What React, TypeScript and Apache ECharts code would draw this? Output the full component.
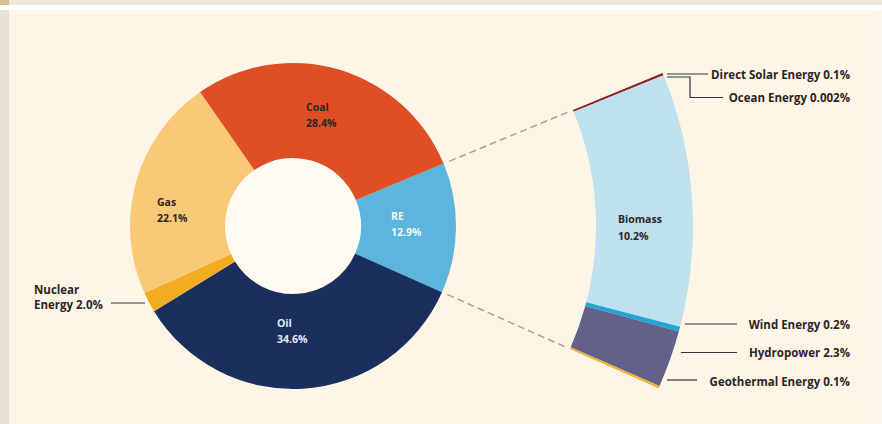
import React, { useEffect, useRef } from 'react';
import * as echarts from 'echarts';

// ---- data ----
const mainNames = ['RE', 'Oil', 'Nuclear Energy', 'Gas', 'Coal'];
const mainValues = [12.9, 34.6, 2.0, 22.1, 28.4];
const mainColors = ['#5BB5DC', '#1B2F5E', '#F2AC22', '#F9C978', '#DF4F26'];
const mainTextColors = ['#EEF7FB', '#E6E9F0', '#2B2523', '#2B2523', '#2B2523'];

const reNames = ['Direct Solar Energy', 'Ocean Energy', 'Biomass', 'Wind Energy', 'Hydropower', 'Geothermal Energy'];
const reValues = [0.1, 0.002, 10.2, 0.2, 2.3, 0.1];
const reColors = ['#8E2121', '#B8453A', '#BFE0EE', '#1FA6D5', '#62618A', '#F0B233'];

// ---- layout ----
const CENTER: [number, number] = [293, 226];
const START = 22.5;
const FONT = "'Open Sans', 'Noto Sans', sans-serif";
const IN_SIZE = 10.5;
const OUT_SIZE = 11.5;

type LP = { x: number; y: number; align: 'left' | 'right'; line?: number[][]; size: number };
const mainLabelPos: Record<string, LP> = {
  RE: { x: 391, y: 224, align: 'left', size: IN_SIZE },
  Oil: { x: 277, y: 331, align: 'left', size: IN_SIZE },
  'Nuclear Energy': { x: 34, y: 297, align: 'left', size: OUT_SIZE, line: [[145, 303], [128, 303], [111, 303]] },
  Gas: { x: 157, y: 210, align: 'left', size: IN_SIZE },
  Coal: { x: 306, y: 115, align: 'left', size: IN_SIZE },
};
const reLabelPos: Record<string, LP> = {
  'Direct Solar Energy': { x: 850, y: 74.5, align: 'right', size: OUT_SIZE, line: [[667, 74], [690, 74], [708, 74]] },
  'Ocean Energy': { x: 850, y: 97.5, align: 'right', size: OUT_SIZE, line: [[667, 77], [690, 77], [690, 97.5], [723, 97.5]] },
  Biomass: { x: 618, y: 227.5, align: 'left', size: IN_SIZE },
  'Wind Energy': { x: 850, y: 324.5, align: 'right', size: OUT_SIZE, line: [[685, 324], [712, 324], [737, 324]] },
  Hydropower: { x: 850, y: 352.5, align: 'right', size: OUT_SIZE, line: [[681, 352.5], [710, 352.5], [737, 352.5]] },
  'Geothermal Energy': { x: 850, y: 381.5, align: 'right', size: OUT_SIZE, line: [[667, 380], [683, 380], [697, 380]] },
};

const fmt = (v: number) => (v < 0.05 ? String(v) : v.toFixed(1)) + '%';

export default function App() {
  const ref = useRef<HTMLDivElement>(null);
  useEffect(() => {
    if (!ref.current) return;
    const chart = echarts.init(ref.current, undefined, { renderer: 'svg' });

    const total = mainValues.reduce((a, b) => a + b, 0);
    const reSum = reValues.reduce((a, b) => a + b, 0);

    const mainData = mainNames.map((n, i) => {
      const lp = mainLabelPos[n];
      const outside = !!lp.line;
      return {
        name: n,
        value: mainValues[i],
        itemStyle: { color: mainColors[i] },
        label: {
          position: outside ? 'outside' : 'inside',
          color: mainTextColors[i],
          fontSize: lp.size,
          lineHeight: outside ? 15.5 : 16,
          formatter: n === 'Nuclear Energy' ? `Nuclear\nEnergy ${fmt(mainValues[i])}` : `${n}\n${fmt(mainValues[i])}`,
        },
        labelLine: { show: outside },
      };
    });

    const reData: any[] = reNames.map((n, i) => {
      const lp = reLabelPos[n];
      const outside = !!lp.line;
      return {
        name: n,
        value: reValues[i],
        itemStyle: { color: reColors[i] },
        label: {
          position: outside ? 'outside' : 'inside',
          color: '#2B2523',
          fontSize: lp.size,
          lineHeight: outside ? 15.5 : 17,
          formatter: outside ? `${n} ${fmt(reValues[i])}` : `${n}\n${fmt(reValues[i])}`,
        },
        labelLine: { show: outside },
      };
    });
    reData.push({
      name: '',
      value: total - reSum,
      itemStyle: { color: 'rgba(0,0,0,0)' },
      label: { show: false },
      labelLine: { show: false },
    });

    const layoutFor = (map: Record<string, LP>, names: string[]) => (p: any) => {
      const lp = map[names[p.dataIndex]];
      if (!lp) return {};
      const o: any = { x: lp.x, y: lp.y, align: lp.align, verticalAlign: 'middle' };
      if (lp.line) o.labelLinePoints = lp.line;
      return o;
    };

    // dashed connectors from the RE slice to the breakdown arc
    const rad = (d: number) => (d * Math.PI) / 180;
    const a1 = rad(START);
    const a2 = rad(START - (mainValues[0] / total) * 360);
    const pt = (r: number, a: number) => [CENTER[0] + r * Math.cos(a), CENTER[1] - r * Math.sin(a)];
    const connector = (a: number) => {
      const p1 = pt(169, a);
      const p2 = pt(300, a);
      return {
        type: 'line',
        shape: { x1: p1[0], y1: p1[1], x2: p2[0], y2: p2[1] },
        style: { stroke: '#A8A29A', lineWidth: 1.5, lineDash: [7, 4] },
        silent: true,
      };
    };

    const common = {
      type: 'pie',
      center: CENTER,
      startAngle: START,
      clockwise: true,
      avoidLabelOverlap: false,
      silent: true,
      itemStyle: { borderWidth: 0 },
      emphasis: { disabled: true },
      label: { show: true, fontFamily: FONT, fontWeight: 'bold', lineHeight: 16 },
      labelLine: { show: true, lineStyle: { color: '#333333', width: 1.2 } },
    };

    chart.setOption({
      animation: false,
      backgroundColor: '#FDF6E7',
      graphic: [
        { type: 'rect', shape: { x: 0, y: 0, width: 882, height: 5 }, style: { fill: '#F1E8DC' }, silent: true },
        { type: 'rect', shape: { x: 0, y: 5, width: 882, height: 5 }, style: { fill: '#FFFFFF' }, silent: true },
        { type: 'rect', shape: { x: 0, y: 0, width: 9, height: 5 }, style: { fill: '#D9C08C' }, silent: true },
        { type: 'rect', shape: { x: 0, y: 10, width: 9, height: 414 }, style: { fill: '#E7E0D4' }, silent: true },
        { type: 'rect', shape: { x: 878, y: 10, width: 4, height: 414 }, style: { fill: '#FBF7EF' }, silent: true },
        { type: 'circle', shape: { cx: CENTER[0], cy: CENTER[1], r: 70 }, style: { fill: '#FFFBF3' }, silent: true },
        connector(a1),
        connector(a2),
      ],
      series: [
        {
          ...common,
          name: 'Primary energy',
          radius: [68, 163],
          labelLayout: layoutFor(mainLabelPos, mainNames),
          data: mainData,
        },
        {
          ...common,
          name: 'RE breakdown',
          radius: [303, 400],
          labelLayout: layoutFor(reLabelPos, reNames),
          data: reData,
        },
      ],
    });
    return () => chart.dispose();
  }, []);
  return <div ref={ref} style={{ position: 'fixed', left: 0, top: 0, width: 882, height: 424 }} />;
}
